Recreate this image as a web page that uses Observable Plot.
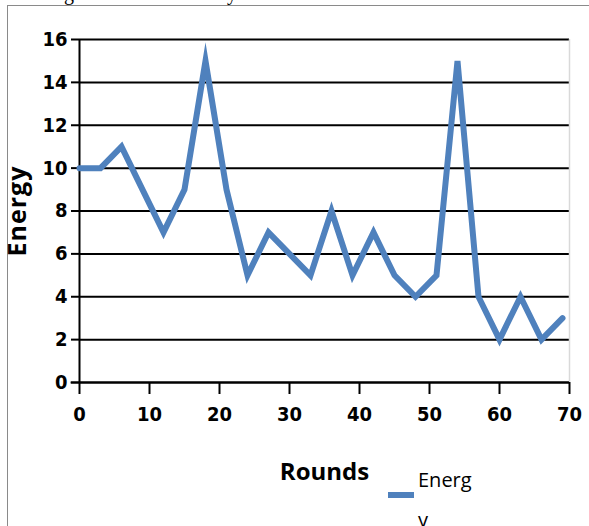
<!DOCTYPE html>
<html>
<head>
<meta charset="utf-8">
<script src="https://cdn.jsdelivr.net/npm/d3@7"></script>
<script src="https://cdn.jsdelivr.net/npm/@observablehq/plot@0.6"></script>
<style>
  html, body { margin: 0; padding: 0; background: #fff; overflow: hidden; }
  #wrap { position: relative; width: 589px; height: 526px; }
  #frame { position: absolute; left: 7px; top: 5px; width: 590px; height: 530px;
           border-left: 1.5px solid #8a8a8a; border-top: 1.5px solid #8a8a8a; box-sizing: border-box; }
  .cut { position: absolute; font-family: "Liberation Serif", serif; font-size: 20px; line-height: 20px; top: -17px; color: #000; }
  #chart { position: absolute; left: 0; top: 0; }
  #legend { position: absolute; left: 388px; top: 460px; font-family: "Open Sans", "Liberation Sans", sans-serif; font-size: 20px; color: #000; }
  #legend .sw { position: absolute; left: 0; top: 32px; width: 26px; height: 6px; background: #4F81BD; }
  #legend .tx { position: absolute; left: 30px; top: 0; width: 70px; line-height: 40px; }
</style>
</head>
<body>
<div id="wrap">
  <span class="cut" style="left:64px">g</span>
  <span class="cut" style="left:227px">y</span>
  <div id="frame"></div>
  <div id="chart"></div>
  <div id="legend"><div class="sw"></div><div class="tx">Energ<br>y</div></div>
</div>
<script>
const rounds = [0, 3, 6, 9, 12, 15, 18, 21, 24, 27, 30, 33, 36, 39, 42, 45, 48, 51, 54, 57, 60, 63, 66, 69];
const energy = [10, 10, 11, 9, 7, 9, 15, 9, 5, 7, 6, 5, 8, 5, 7, 5, 4, 5, 15, 4, 2, 4, 2, 3];
const yTicks = [0, 2, 4, 6, 8, 10, 12, 14, 16];
const xTicks = [0, 10, 20, 30, 40, 50, 60, 70];
const seriesName = "Energy";
const xLabel = "Rounds";
const yLabel = "Energy";

const data = rounds.map((r, i) => ({round: r, energy: energy[i]}));
const tickFont = "DejaVu Sans Condensed, DejaVu Sans, sans-serif";

const chart = Plot.plot({
  width: 589,
  height: 526,
  marginLeft: 79,
  marginRight: 20,
  marginTop: 39,
  marginBottom: 144,
  style: {background: "transparent", overflow: "visible"},
  x: {domain: [0, 70], ticks: xTicks},
  y: {domain: [0, 16], ticks: yTicks},
  marks: [
    Plot.ruleY(yTicks, {x1: 0, x2: 70, stroke: "#000", strokeWidth: 2}),
    Plot.ruleX([70], {y1: 0, y2: 16, stroke: "#d9d9d9", strokeWidth: 1.5}),
    Plot.ruleX([0], {y1: 0, y2: 16, stroke: "#000", strokeWidth: 2}),
    Plot.axisY({ticks: yTicks, tickSize: 8, tickPadding: 4, stroke: "#000", strokeWidth: 2,
      fontSize: 20, fontWeight: "bold", fontFamily: tickFont, fill: "#000", label: null}),
    Plot.axisX({ticks: xTicks, tickSize: 12, tickPadding: 12, stroke: "#000", strokeWidth: 2,
      fontSize: 20, fontWeight: "bold", fontFamily: tickFont, fill: "#000", label: null}),
    Plot.ruleY([0], {x1: -1.2, x2: 70, stroke: "#000", strokeWidth: 2}),
    Plot.line(data, {x: "round", y: "energy", stroke: "#4F81BD", strokeWidth: 6, strokeLinejoin: "miter", strokeMiterlimit: 10}),
    Plot.text([xLabel], {frameAnchor: "bottom", dy: 97, fontSize: 24, fontWeight: "bold", fontFamily: "Open Sans, sans-serif", fill: "#000"}),
    Plot.text([yLabel], {frameAnchor: "left", dx: -62, rotate: -90, textAnchor: "middle", fontSize: 25, fontWeight: "bold", fontFamily: "Open Sans, sans-serif", fill: "#000",
      render: (i, s, v, d, c, next) => { const g = next(i, s, v, d, c); g.setAttribute("letter-spacing", "1"); return g; }})
  ]
});
document.getElementById("chart").appendChild(chart);
</script>
</body>
</html>
